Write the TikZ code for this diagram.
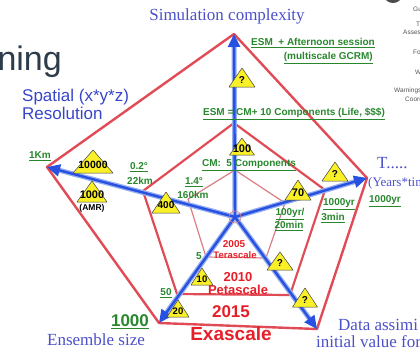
\documentclass[tikz,border=0pt]{standalone}
\usepackage{fontspec}
\setmainfont{Liberation Serif}
\setsansfont{Liberation Sans}
\usetikzlibrary{arrows.meta}

\definecolor{axisblue}{RGB}{40,80,225}
\definecolor{haloblue}{RGB}{150,175,240}
\definecolor{edgered}{RGB}{225,75,85}
\definecolor{edgepink}{RGB}{218,125,135}
\definecolor{lblblue}{RGB}{75,80,200}
\definecolor{sansblue}{RGB}{55,70,200}
\definecolor{valgreen}{RGB}{40,135,45}
\definecolor{erared}{RGB}{230,30,40}
\definecolor{triyellow}{RGB}{250,240,40}
\definecolor{slate}{RGB}{45,60,75}
\definecolor{notegray}{RGB}{85,85,85}

\newcommand\fsz[1]{\fontsize{#1}{#1}\selectfont}
% yellow warning triangle: name, x, apex y, base y, half width, label, label y
\newcommand\ytri[7]{%
  \path[tri fill] (#2,#3) -- ({#2+#5},#4) -- ({#2-#5},#4) -- cycle;
  \node[tri text] (#1) at (#2,#7) {#6};}

\tikzset{
  axis halo/.style={haloblue, line width=5pt},
  axis core/.style={axisblue, line width=2.4pt, -{Triangle[length=13pt,width=12pt]}},
  outer edge/.style={edgered, line width=2.4pt, line join=round},
  mid edge/.style={edgered, line width=2.2pt, line join=round},
  inner edge/.style={edgepink, line width=1.2pt, line join=round},
  axis label/.style={text=lblblue, font=\fsz{17}, inner sep=0pt},
  side label/.style={text=sansblue, font=\sffamily\fsz{17}, inner sep=0pt, anchor=west},
  value/.style={text=valgreen, font=\sffamily\bfseries\fsz{10}, inner sep=0pt},
  era/.style={text=erared, font=\sffamily\bfseries, inner sep=0pt},
  tri text/.style={font=\sffamily\bfseries\fsz{10}, inner sep=0pt},
  tri fill/.style={fill=triyellow, draw=black!75, line width=0.5pt, line join=round},
  note/.style={text=notegray, font=\sffamily\fsz{6.5}, inner sep=0pt, anchor=west},
}

\begin{document}
\begin{tikzpicture}[x=1pt,y=-1pt]
\useasboundingbox (0,0) rectangle (420,351);
\clip (0,0) rectangle (420,351);

% slide remnants behind the chart
\node[text=slate, font=\sffamily\fsz{34}, inner sep=0pt, anchor=base east] (slide) at (62,70) {ning};
\fill[black!70] (393,-5) ellipse (9 and 8);
\node[note] (n1) at (413,9) {Gu};
\node[note] (n2) at (416,24) {T};
\node[note] (n3) at (403,32) {Asses};
\node[note] (n4) at (413,52) {Fo};
\node[note] (n5) at (415,72) {W};
\node[note] (n6) at (394,91) {Warnings};
\node[note] (n7) at (405,99) {Coord};

% centre and axis ends
\coordinate (C) at (235,217);
\coordinate (O1) at (234,34);
\coordinate (O2) at (367,178);
\coordinate (O3) at (317,329);
\coordinate (O4) at (159,323);
\coordinate (O5) at (47,167);
% 2010 level
\coordinate (P1) at (234,123);
\coordinate (P2) at (325,190);
\coordinate (P3) at (290,295);
\coordinate (P4) at (177,294);
\coordinate (P5) at (143,191);
% 2005 level
\coordinate (T1) at (235,170);
\coordinate (T2) at (285,203);
\coordinate (T3) at (266,258);
\coordinate (T4) at (206,257);
\coordinate (T5) at (188,199);

% pentagons
\draw[outer edge] (O1) -- (O2) -- (O3) -- (O4) -- (O5) -- cycle;
\draw[mid edge] (P1) -- (P2) -- (P3) -- (P4) -- (P5) -- cycle;
\draw[inner edge] (T1) -- (T2) -- (T3) -- (T4) -- (T5) -- cycle;

% axes
\foreach \e in {O1,O2,O3,O4,O5}{
  \draw[axis halo, shorten >=8pt] (C) -- (\e);
}
\foreach \e in {O1,O2,O3,O4,O5}{
  \draw[axis core] (C) -- (\e);
}
\draw[edgepink, line width=0.6pt] (C) circle (6);
\fill[axisblue] (C) circle (2);

% axis titles
\node[axis label] (simc) at (227,16) {Simulation complexity};
\node[side label] (spat) at (22,97) {Spatial (x*y*z)};
\node[side label] (reso) at (22,113) {Resolution};
\node[axis label, anchor=west] (time) at (377,163) {T.....};
\node[axis label, anchor=west, font=\fsz{13}] (years) at (368,183) {(Years*tim};
\node[axis label, anchor=west] (ens) at (47,340) {Ensemble size};
\node[axis label, anchor=west] (data1) at (338,325) {Data assimi};
\node[axis label, anchor=west] (data2) at (316,342) {initial value for};

% values along the axes
\node[value] (esm1) at (313,43) {\underline{ESM~~+ Afternoon session}};
\node[value, anchor=east] (esm2) at (373,58) {\underline{(multiscale GCRM)}};
\node[value] (esm3) at (294,114) {\underline{ESM = CM+ 10 Components (Life, \$\$\$)}};
\node[value] (cm5) at (249,165) {\underline{CM:~~5 Components}};
\node[value] (km1) at (40,156) {\underline{1Km}};
\node[value] (deg02) at (139,167) {\underline{0.2°}};
\node[value] (km22) at (140,181) {22km};
\node[value] (deg14) at (194,182) {\underline{1.4°}};
\node[value] (km160) at (193,195) {160km};
\node[value] (yr100) at (290,214) {\underline{100yr/}};
\node[value] (min20) at (289,226) {\underline{20min}};
\node[value] (yr1000a) at (339,204) {\underline{1000yr}};
\node[value] (min3) at (333,218) {\underline{3min}};
\node[value] (yr1000b) at (385,201) {\underline{1000yr}};
\node[value] (ens50) at (166,293) {\underline{50}};
\node[value] (ens5) at (199,256) {5};
\node[value, font=\sffamily\bfseries\fsz{17}] (ens1000) at (130,322) {\underline{1000}};

% machine generations
\node[era, font=\sffamily\bfseries\fsz{10}] (y2005) at (234,244) {2005};
\node[era, font=\sffamily\bfseries\fsz{9.5}] (tera) at (235,255) {Terascale};
\node[era, font=\sffamily\bfseries\fsz{13}] (y2010) at (238,277) {2010};
\node[era, font=\sffamily\bfseries\fsz{13}] (peta) at (238,290) {Petascale};
\node[era, font=\sffamily\bfseries\fsz{17}] (y2015) at (231,312) {2015};
\node[era, font=\sffamily\bfseries\fsz{19}] (exa) at (231,334) {Exascale};

% open questions and target values
\ytri{q1}{242}{68}{87}{13}{?}{80}
\ytri{t100}{242}{138}{155}{12.5}{\fsz{11}100}{149}
\ytri{t10000}{93}{150}{173}{20}{\fsz{10.5}10000}{165}
\ytri{t1000}{92}{181}{202}{15}{\fsz{11}1000}{195}
\node[tri text, font=\sffamily\bfseries\fsz{8.5}] (amr) at (92,208) {(AMR)};
\ytri{t400}{166}{192}{213}{14}{400}{205}
\ytri{t70}{298}{180}{200}{13}{\fsz{11}70}{193}
\ytri{q2}{335}{162}{181}{13}{?}{174}
\ytri{q3}{280}{252}{270}{13}{?}{263}
\ytri{q4}{305}{288}{307}{12.5}{?}{300}
\ytri{t10}{202}{268}{285}{11}{\fsz{9.5}10}{279}
\ytri{t20}{178}{300}{317}{11}{\fsz{9.5}20}{311}
\end{tikzpicture}
\end{document}
